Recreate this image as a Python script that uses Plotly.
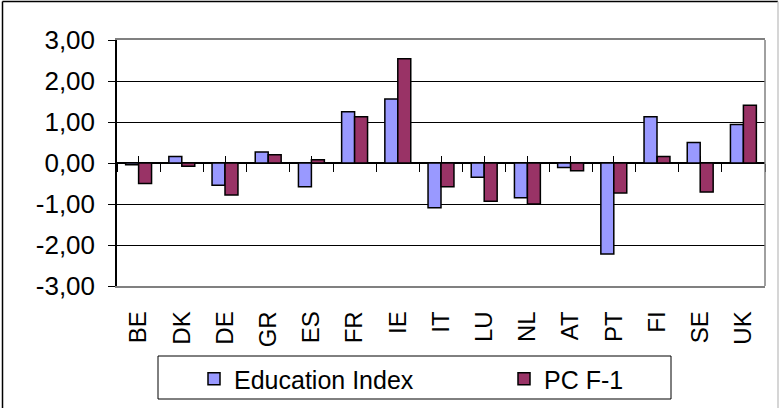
import plotly.graph_objects as go

countries = ["BE", "DK", "DE", "GR", "ES", "FR", "IE", "IT", "LU", "NL", "AT", "PT", "FI", "SE", "UK"]
education_index = [-0.04, 0.16, -0.54, 0.27, -0.58, 1.25, 1.56, -1.09, -0.35, -0.85, -0.11, -2.22, 1.13, 0.50, 0.94]
pc_f1 = [-0.50, -0.08, -0.78, 0.20, 0.08, 1.13, 2.54, -0.58, -0.93, -1.00, -0.19, -0.73, 0.16, -0.71, 1.41]
y_ticks = [-3, -2, -1, 0, 1, 2, 3]
y_tick_text = ["-3,00", "-2,00", "-1,00", "0,00", "1,00", "2,00", "3,00"]

FONT = "Liberation Sans, Arial, sans-serif"

# plot-area geometry in pixels (used to place paper-referenced decorations)
W, H = 779, 408
ML, MR, MT, MB = 117, 14, 40, 122
PW, PH = W - ML - MR, H - MT - MB


def px_x(x):
    return (x - ML) / PW


def px_y(y):
    return (H - MB - y) / PH


fig = go.Figure()
fig.add_trace(go.Bar(x=countries, y=education_index, name="Education Index", legend="legend",
                     marker=dict(color="#9999FF", line=dict(color="black", width=1.5))))
fig.add_trace(go.Bar(x=countries, y=pc_f1, name="PC F-1", legend="legend2",
                     marker=dict(color="#993366", line=dict(color="black", width=1.5))))

# invisible traces to attach the tick-only axes that sit on the zero line
fig.add_trace(go.Scatter(x=countries, y=[0] * len(countries), xaxis="x2", yaxis="y",
                         mode="none", showlegend=False, hoverinfo="skip"))
fig.add_trace(go.Scatter(x=countries, y=[0] * len(countries), xaxis="x3", yaxis="y",
                         mode="none", showlegend=False, hoverinfo="skip"))

legend_style = dict(orientation="h", xanchor="left", yanchor="middle",
                    bgcolor="rgba(0,0,0,0)", borderwidth=0,
                    font=dict(size=25, family=FONT))

fig.update_layout(
    width=W, height=H,
    margin=dict(l=ML, r=MR, t=MT, b=MB, autoexpand=False),
    paper_bgcolor="white", plot_bgcolor="white",
    font=dict(family=FONT, color="black", size=22),
    barmode="group", bargap=0.4, bargroupgap=0.0,
    showlegend=True,
    legend=dict(x=px_x(194), y=px_y(379), **legend_style),
    legend2=dict(x=px_x(504), y=px_y(379), **legend_style),
    xaxis=dict(type="category", showgrid=False, showline=True, linecolor="#808080",
               linewidth=1.5, mirror=True, ticks="", tickangle=-90,
               tickfont=dict(size=24, family=FONT), ticklabelstandoff=14,
               zeroline=False, fixedrange=True),
    xaxis2=dict(type="category", overlaying="x", anchor="free", position=0.5,
                side="bottom", showgrid=False, showline=False, ticks="outside",
                tickson="boundaries", ticklen=8, tickcolor="black", tickwidth=1,
                showticklabels=False, matches="x"),
    xaxis3=dict(type="category", overlaying="x", anchor="free", position=0.5,
                side="bottom", showgrid=False, showline=False, ticks="inside",
                ticklen=7, tickcolor="black", tickwidth=1,
                showticklabels=False, matches="x"),
    yaxis=dict(range=[-3, 3], tickvals=y_ticks, ticktext=y_tick_text,
               showgrid=True, gridcolor="black", gridwidth=1,
               zeroline=True, zerolinecolor="black", zerolinewidth=1.5,
               showline=True, linecolor="black", linewidth=1.5,
               ticks="outside", ticklen=7, tickcolor="black",
               tickfont=dict(size=26, family=FONT), ticklabelstandoff=8,
               fixedrange=True),
)

# grey right edge of the plot frame
fig.add_shape(type="line", xref="paper", yref="paper", x0=1, x1=1, y0=0, y1=1,
              line=dict(color="#808080", width=1.5))
# legend box
fig.add_shape(type="rect", xref="paper", yref="paper",
              x0=px_x(158), x1=px_x(671), y0=px_y(356), y1=px_y(399),
              line=dict(color="black", width=1), fillcolor="white", layer="below")
# outer chart border
fig.add_shape(type="line", xref="paper", yref="paper", x0=px_x(2.5), x1=px_x(778),
              y0=px_y(1.5), y1=px_y(1.5), line=dict(color="black", width=1.5))
fig.add_shape(type="line", xref="paper", yref="paper", x0=px_x(2.5), x1=px_x(2.5),
              y0=px_y(1.5), y1=px_y(408), line=dict(color="black", width=1.5))
fig.add_shape(type="line", xref="paper", yref="paper", x0=px_x(778), x1=px_x(778),
              y0=px_y(1.5), y1=px_y(408), line=dict(color="#C8C8C8", width=1.5))

fig.write_html("out.html")
